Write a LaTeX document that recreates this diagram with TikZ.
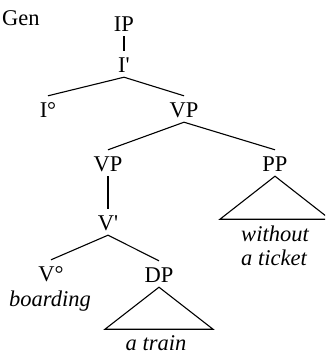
\documentclass[tikz,border=0pt]{standalone}
\usepackage{fontspec}
\setmainfont{Liberation Serif}
\begin{document}
\begin{tikzpicture}[x=1pt,y=-1pt,
  lab/.style={anchor=base,inner xsep=0pt,inner ysep=5pt,text height=16pt,text depth=0pt,font=\fontsize{22.5}{26}\selectfont},
  word/.style={anchor=base,inner sep=0pt,font=\fontsize{22.5}{26}\selectfont\itshape},
  edge/.style={line width=1.1pt}]
\useasboundingbox (0,0) rectangle (325,354);
\clip (0,0) rectangle (325,354);
\node[lab,anchor=base west] (gen) at (2,25) {Gen};
\node[lab] (ip) at (124,31) {IP};
\node[lab] (ib) at (124,72) {I\textquotesingle};
\node[lab] (io) at (48,117) {I°};
\node[lab] (vp1) at (184,117) {VP};
\node[lab] (vp2) at (108,171) {VP};
\node[lab] (pp) at (275,171) {PP};
\node[lab] (vb) at (108,230) {V\textquotesingle};
\node[lab] (vo) at (51,281) {V°};
\node[lab] (dp) at (159,282) {DP};
\node[word] (boarding) at (50,306) {boarding};
\node[word] (train) at (156,350) {a train};
\node[word] (without) at (275,241) {without};
\node[word] (ticket) at (274,265) {a ticket};
\draw[edge] (ip.south) -- (ib.north);
\draw[edge] (ib.south) -- (io.north);
\draw[edge] (ib.south) -- (vp1.north);
\draw[edge] (vp1.south) -- (vp2.north);
\draw[edge] (vp1.south) -- (pp.north);
\draw[edge] (vp2.south) -- (vb.north);
\draw[edge] (vb.south) -- (vo.north);
\draw[edge] (vb.south) -- (dp.north);
\draw[edge] (pp.south) -- ++(-55,43) coordinate (ppl) -- ++(110,0) coordinate (ppr) -- cycle;
\draw[edge] (dp.south) -- ++(-54,42) coordinate (dpl) -- ++(108,0) coordinate (dpr) -- cycle;
\end{tikzpicture}
\end{document}
